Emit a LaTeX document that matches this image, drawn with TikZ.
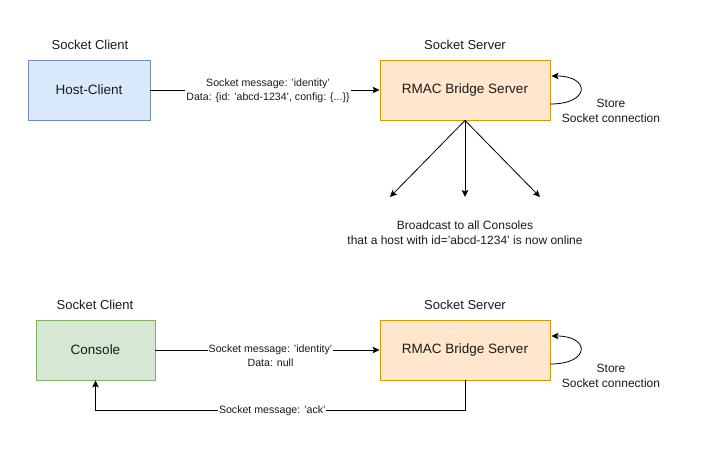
\documentclass[tikz,border=0pt]{standalone}
\usepackage{fontspec}
\setmainfont{Liberation Sans}
\usetikzlibrary{arrows.meta,calc}
\definecolor{bluef}{HTML}{DAE8FC}\definecolor{blued}{HTML}{6C8EBF}
\definecolor{orangef}{HTML}{FFE6CC}\definecolor{oranged}{HTML}{D79B00}
\definecolor{greenf}{HTML}{D5E8D4}\definecolor{greend}{HTML}{82B366}
\definecolor{txt}{HTML}{1A1A1A}
\tikzset{
  box/.style={draw, line width=0.9pt, minimum height=60pt, inner sep=0pt, font=\fontsize{13.5}{16}\selectfont, text=txt},
  title/.style={font=\fontsize{13}{15}\selectfont, text=txt},
  elabel/.style={font=\fontsize{10.6}{14}\selectfont, text=txt, fill=white, inner sep=1pt, align=center},
  note/.style={font=\fontsize{12}{15}\selectfont, text=txt, align=center},
  arr/.style={draw, line width=0.8pt, -{Stealth[length=7pt,width=6.5pt,inset=1.5pt]}},
}
\begin{document}
\begin{tikzpicture}[x=1pt,y=-1pt]
\useasboundingbox (0,0) rectangle (701,449);
% top
\node[box, fill=bluef, draw=blued, minimum width=122pt] (hc) at (89,90) {Host-Client};
\node[box, fill=orangef, draw=oranged, minimum width=170pt] (s1) at (465,90) {RMAC Bridge Server};
\node[title] (t1) at (90,45) {Socket Client};
\node[title] (t2) at (465,45) {Socket Server};
\draw[arr] (hc) -- (s1) node[elabel, pos=0.5, xshift=3pt, yshift=-1pt] (l1) {Socket message: 'identity'\\Data: \{id: 'abcd-1234', config: \{...\}\}};
\coordinate (lpA) at ($(s1.east)+(0,14)$);
\coordinate (lpB) at ($(s1.east)+(1,-14)$);
\draw[arr] (lpA) .. controls ($(lpA)+(40,0)$) and ($(lpB)+(39,0)$) .. (lpB);
\node[note] (st1) at (611,111) {Store\\Socket connection};
\coordinate (b1) at (390,197);
\coordinate (b2) at (465,197);
\coordinate (b3) at (540,197);
\draw[arr] (s1.south) -- (b1);
\draw[arr] (s1.south) -- (b2);
\draw[arr] (s1.south) -- (b3);
\node[note] (bc) at (465,233) {Broadcast to all Consoles\\that a host with id='abcd-1234' is now online};
% bottom
\node[box, fill=greenf, draw=greend, minimum width=119pt] (co) at (95.5,350) {Console};
\node[box, fill=orangef, draw=oranged, minimum width=170pt] (s2) at (465,350) {RMAC Bridge Server};
\node[title] (t3) at (95,305) {Socket Client};
\node[title] (t4) at (465,305) {Socket Server};
\draw[arr] (co) -- (s2) node[elabel, pos=0.5, xshift=3pt] (l2) {Socket message: 'identity'};
\node[elabel, fill=none] (l3) at ($(l2.south)+(0,6)$) {Data: null};
\coordinate (lqA) at ($(s2.east)+(0,14)$);
\coordinate (lqB) at ($(s2.east)+(1,-14)$);
\draw[arr] (lqA) .. controls ($(lqA)+(40,0)$) and ($(lqB)+(39,0)$) .. (lqB);
\node[note] (st2) at (611,376) {Store\\Socket connection};
\draw[arr] (s2.south) -- ++(0,30) -| (co.south) node[elabel, pos=0.25, xshift=-8pt] (l4) {Socket message: 'ack'};
\end{tikzpicture}
\end{document}
